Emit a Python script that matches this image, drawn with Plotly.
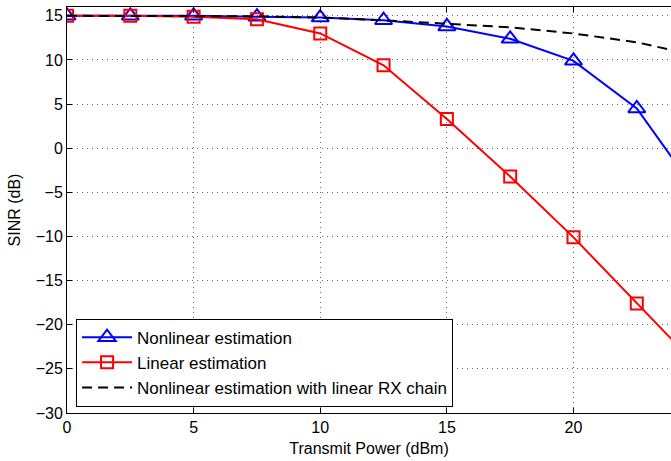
import plotly.graph_objects as go

x_power = [0, 2.5, 5, 7.5, 10, 12.5, 15, 17.5, 20, 22.5, 25]
sinr_nonlinear = [15.0, 15.0, 15.0, 14.9, 14.8, 14.5, 13.8, 12.4, 9.9, 4.5, -5.5]
sinr_linear = [15.0, 15.0, 14.9, 14.6, 13.0, 9.4, 3.3, -3.2, -10.1, -17.6, -25.0]
sinr_nonlinear_linrx = [15.0, 15.0, 15.0, 14.95, 14.8, 14.5, 14.1, 13.7, 13.0, 12.0, 10.4]

x_ticks = [0, 5, 10, 15, 20, 25]
y_ticks = [-30, -25, -20, -15, -10, -5, 0, 5, 10, 15]

FONT = "Liberation Sans, Arial, Helvetica, sans-serif"

fig = go.Figure()
fig.add_trace(go.Scatter(
    x=x_power, y=sinr_nonlinear, mode="lines+markers",
    name="Nonlinear estimation",
    line=dict(color="#0000ff", width=2),
    marker=dict(symbol="triangle-up-open", size=15, color="#0000ff",
                line=dict(width=2, color="#0000ff")),
))
fig.add_trace(go.Scatter(
    x=x_power, y=sinr_linear, mode="lines+markers",
    name="Linear estimation",
    line=dict(color="#ff0000", width=2),
    marker=dict(symbol="square-open", size=12, color="#ff0000",
                line=dict(width=2, color="#ff0000")),
))
fig.add_trace(go.Scatter(
    x=x_power, y=sinr_nonlinear_linrx, mode="lines",
    name="Nonlinear estimation with linear RX chain",
    line=dict(color="#000000", width=2, dash="10px,6px"),
))

axis_common = dict(
    showline=True, linecolor="black", linewidth=1,
    ticks="inside", ticklen=5, tickcolor="black", tickwidth=1,
    showgrid=True, gridcolor="#666666", gridwidth=1, griddash="1px,4px",
    zeroline=False, automargin=False,
    tickfont=dict(family=FONT, size=16, color="black"),
)

fig.update_xaxes(
    range=[0, 23.85], tickvals=x_ticks, mirror="ticks",
    title=dict(text="Transmit Power (dBm)", font=dict(family=FONT, size=16, color="black"), standoff=7),
    **axis_common,
)
fig.update_yaxes(
    range=[-30, 16], tickvals=y_ticks, mirror=False,
    title=dict(text="SINR (dB)", font=dict(family=FONT, size=16, color="black"), standoff=11),
    **axis_common,
)

fig.update_layout(
    width=671, height=461,
    margin=dict(l=67, r=0, t=7, b=48),
    plot_bgcolor="white", paper_bgcolor="white",
    font=dict(family=FONT, size=16, color="black"),
    showlegend=True,
    legend=dict(
        x=0.015, y=0.0155, xanchor="left", yanchor="bottom",
        bgcolor="white", bordercolor="black", borderwidth=1,
        font=dict(family=FONT, size=17, color="black"),
        itemwidth=50, tracegroupgap=0,
    ),
)

fig.write_html("out.html", config={"displayModeBar": False},
               post_script="document.body.style.margin='0px';")
